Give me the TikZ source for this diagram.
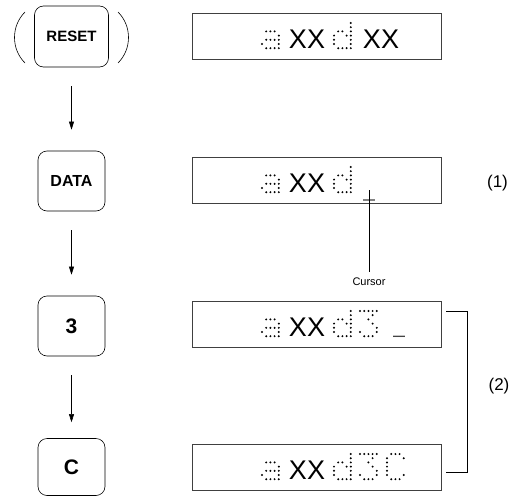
\documentclass[tikz,border=0pt]{standalone}
\usepackage{fontspec}
\setmainfont{Liberation Sans}
\usetikzlibrary{arrows.meta}

%% the dots of the display's 5x7 characters, as column/row
\def\glypha{2/3,3/3,4/3,5/4,2/5,3/5,4/5,5/5,1/6,5/6,2/7,3/7,4/7,5/7}
\def\glyphd{5/1,5/2,2/3,3/3,5/3,1/4,4/4,5/4,1/5,5/5,1/6,5/6,2/7,3/7,4/7,5/7}
\def\glyphthree{1/1,2/1,3/1,4/1,5/1,4/2,3/3,4/4,5/5,1/6,5/6,2/7,3/7,4/7}
\def\glyphC{2/1,3/1,4/1,1/2,5/2,1/3,1/4,1/5,1/6,5/6,2/7,3/7,4/7}

%% one character, its top left dot at (#1,#2)
\newcommand\lcdchar[3]{%
  \foreach \gc/\gr in #3
    \fill (#1+4.2*\gc-4.2, #2+4.2*\gr-4.2) circle (1.1);}
%% the underscore (cursor), a close row of dots
\newcommand\lcdbar[2]{%
  \foreach \gc in {0,...,5}
    \fill (#1+2*\gc, #2) circle (.9);}

\begin{document}
\begin{tikzpicture}[
    x=1pt, y=-1pt,
    key/.style={draw, rounded corners=9pt, line width=.6pt, font=\bfseries,
        minimum width=67pt, minimum height=60pt},
    display/.style={draw=black!75, line width=.8pt, minimum width=249pt,
        minimum height=46pt, inner sep=0pt},
    lcdtext/.style={font=\fontsize{27}{27}\selectfont, inner sep=0pt, anchor=base},
    flow/.style={-{Triangle[length=8pt,width=5pt]}, line width=.5pt},
    note/.style={font=\fontsize{17}{17}\selectfont},
]
    \useasboundingbox (0,0) rectangle (513,495);

    %% the keys, pressed one after the other
    \node[key, minimum width=74pt, minimum height=61pt] (reset) at (71.5,36.5)
        {\fontsize{15}{15}\selectfont RESET};
    \node[key] (data) at (71.5,181) {\fontsize{16}{16}\selectfont DATA};
    \node[key] (three) at (71.5,326) {\fontsize{21}{21}\selectfont 3};
    \node[key, minimum height=57pt] (cee) at (71.5,467)
        {\fontsize{21}{21}\selectfont C};
    \draw[line width=.6pt] (25,12) .. controls (11,26) and (11,49) .. (25,63);
    \draw[line width=.6pt] (118,12) .. controls (132,26) and (132,49) .. (118,63);

    \draw[flow, shorten <=19pt, shorten >=21pt] (reset) -- (data);
    \draw[flow, shorten <=19pt, shorten >=21pt] (data) -- (three);
    \draw[flow, shorten <=19pt, shorten >=16pt] (three) -- (cee);

    %% the display after each key
    \foreach \n/\y in {1/36, 2/180, 3/324, 4/467}
        \node[display] (disp\n) at (316.5,\y) {};

    \lcdchar{262}{23}{\glypha}
    \node[lcdtext] (xx1) at (307,48.2) {XX};
    \lcdchar{334}{23}{\glyphd}
    \node[lcdtext] (xx2) at (381,48.2) {XX};

    \lcdchar{262}{167}{\glypha}
    \node[lcdtext] (xx3) at (307,192.2) {XX};
    \lcdchar{334}{167}{\glyphd}
    \lcdbar{364}{200}

    \lcdchar{262}{311}{\glypha}
    \node[lcdtext] (xx4) at (307,336.2) {XX};
    \lcdchar{334}{311}{\glyphd}
    \lcdchar{360}{311}{\glyphthree}
    \lcdbar{394}{336.2}

    \lcdchar{262}{454}{\glypha}
    \node[lcdtext] (xx5) at (307,479.2) {XX};
    \lcdchar{334}{454}{\glyphd}
    \lcdchar{360}{454}{\glyphthree}
    \lcdchar{387}{454}{\glyphC}

    %% the cursor, and the notes on the right
    \coordinate (cursor) at (369,190);
    \node[font=\fontsize{11}{11}\selectfont] (cursorlbl) at (369,282) {Cursor};
    \draw[line width=.5pt] (cursor) -- ([yshift=3pt]cursorlbl.north);

    \node[note] (one) at (497.5,183) {(1)};
    \draw[line width=.6pt] (446,311) -- (467,311) -- (467,472) -- (446,472);
    \node[note] (two) at (499,386) {(2)};
\end{tikzpicture}
\end{document}
